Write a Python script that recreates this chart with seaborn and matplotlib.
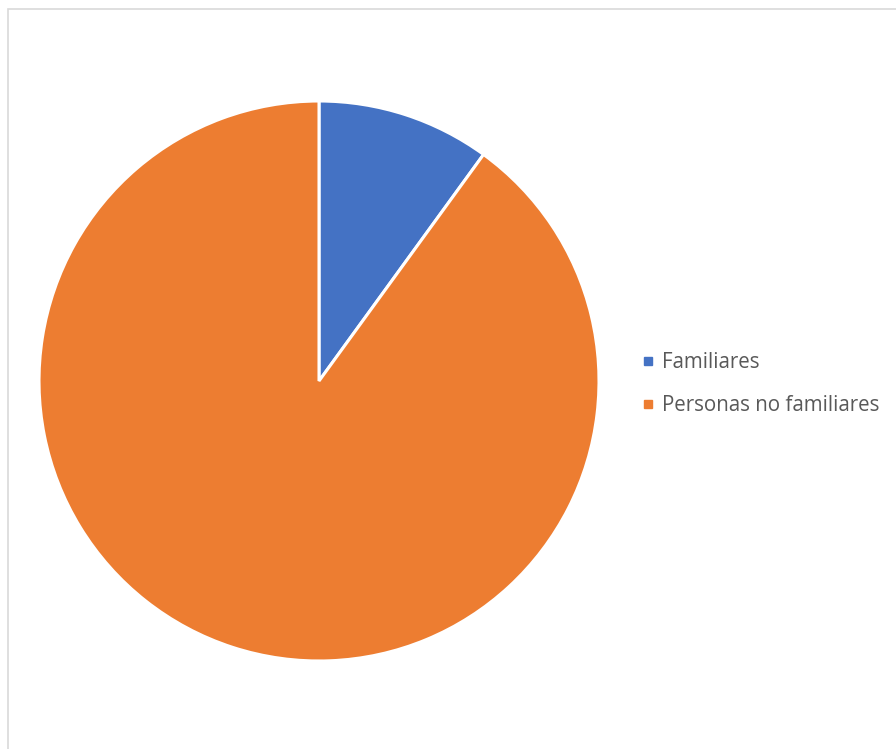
import matplotlib
matplotlib.use("Agg")
import matplotlib.pyplot as plt
from matplotlib.patches import Rectangle
from matplotlib.lines import Line2D
import seaborn as sns

categories = ["Familiares", "Personas no familiares"]
values = [10, 90]
colors = ["#4472C4", "#ED7D31"]

sns.set_theme(style="white")
plt.rcParams["font.family"] = ["Open Sans", "DejaVu Sans"]

W, H = 896, 749
fig = plt.figure(figsize=(W / 100, H / 100), dpi=100)
fig.patch.set_facecolor("white")

# chart frame (light grey border running off the right and bottom)
fig.patches.append(Rectangle((7.5 / W, -0.05), 1.1, 1 - 9 / H + 0.05,
                             transform=fig.transFigure, fill=False,
                             edgecolor="#d9d9d9", linewidth=1.2))

ax = fig.add_axes([39 / W, 88 / H, 560 / W, 560 / H])
ax.pie(values, colors=colors, startangle=90, counterclock=False,
       radius=1.0, wedgeprops=dict(edgecolor="white", linewidth=2.2))
ax.set_xlim(-1, 1)
ax.set_ylim(-1, 1)
ax.set_aspect("equal")
ax.axis("off")

handles = [Line2D([0], [0], marker="s", linestyle="none", markersize=6,
                  markerfacecolor=c, markeredgecolor=c) for c in colors]
leg = fig.legend(handles, categories, loc="center left",
                 bbox_to_anchor=(623 / W, 1 - 384 / H), frameon=False,
                 fontsize=14.8, labelspacing=1.1, handlelength=0.6,
                 handletextpad=0.4)
for t in leg.get_texts():
    t.set_color("#595959")

fig.savefig("out.png", dpi=100, facecolor="white")
